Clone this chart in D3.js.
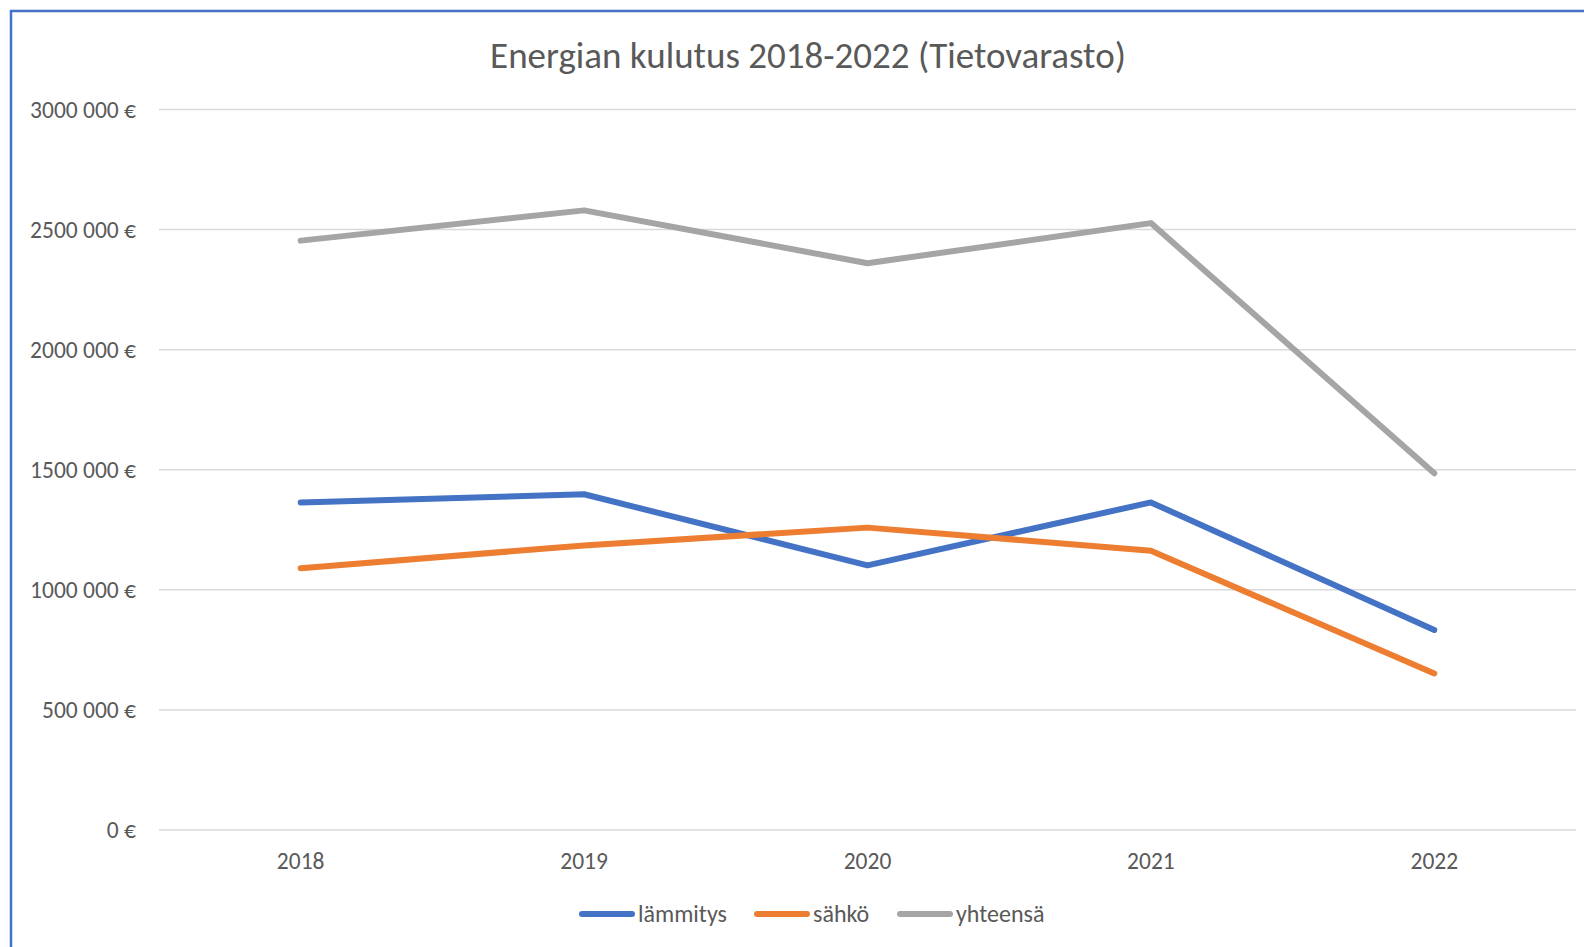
<!DOCTYPE html>
<html>
<head>
<meta charset="utf-8">
<script src="https://cdn.jsdelivr.net/npm/d3@7"></script>
<style>
  body { margin: 0; background: #fff; }
  text { font-family: Calibri, Carlito, Lato, "Open Sans", sans-serif; fill: #595959; }
</style>
</head>
<body>
<div id="chart"></div>
<script>
const width = 1584;
const height = 947;

// data
const years = ["2018", "2019", "2020", "2021", "2022"];
const lammitys = [1364000, 1398000, 1102000, 1364000, 833000];
const sahko = [1090000, 1185000, 1259000, 1163000, 652000];
const yhteensa = [2454000, 2580000, 2360000, 2527000, 1485000];
const seriesNames = ["lämmitys", "sähkö", "yhteensä"];
const seriesColors = ["#4472C4", "#ED7D31", "#A5A5A5"];
const yTicks = [0, 500000, 1000000, 1500000, 2000000, 2500000, 3000000];

const series = [lammitys, sahko, yhteensa];

const svg = d3.select("#chart").append("svg").attr("width", width).attr("height", height);

// chart frame (runs off the right/bottom of the window)
svg.append("rect")
    .attr("x", 11).attr("y", 11)
    .attr("width", width).attr("height", height)
    .attr("fill", "#fff")
    .attr("stroke", "#4472C4")
    .attr("stroke-width", 2.5);

const plot = { left: 159, right: 1576, top: 109.5, bottom: 830 };

const x = d3.scaleBand().domain(years).range([plot.left, plot.right]);
const y = d3.scaleLinear().domain([0, 3000000]).range([plot.bottom, plot.top]);

const fmt = v => {
    // "3000 000 €" style: space only before last group of three
    if (v === 0) return "0 €";
    const s = String(v);
    return s.slice(0, s.length - 3) + " " + s.slice(-3) + " €";
};

// gridlines
svg.append("g")
    .selectAll("line").data(yTicks).enter()
    .append("line")
    .attr("x1", plot.left).attr("x2", plot.right)
    .attr("y1", d => y(d)).attr("y2", d => y(d))
    .attr("stroke", "#D9D9D9")
    .attr("stroke-width", 1.5);

// y axis labels
const yAxis = d3.axisLeft(y).tickValues(yTicks).tickFormat(fmt).tickSize(0).tickPadding(0);
const gy = svg.append("g").attr("transform", "translate(136,0)").call(yAxis);
gy.select(".domain").remove();
gy.selectAll("text").style("font-size", "23.5px").attr("fill", "#595959");

// x axis labels
const xAxis = d3.axisBottom(x).tickSize(0).tickPadding(0);
const gx = svg.append("g").attr("transform", "translate(0,852)").call(xAxis);
gx.select(".domain").remove();
gx.selectAll("text").style("font-size", "23.5px").attr("fill", "#595959");

// lines
const line = d3.line()
    .x((d, i) => x(years[i]) + x.bandwidth() / 2)
    .y(d => y(d));

series.forEach((s, k) => {
    svg.append("path")
        .datum(s)
        .attr("d", line)
        .attr("fill", "none")
        .attr("stroke", seriesColors[k])
        .attr("stroke-width", 6)
        .attr("stroke-linecap", "round")
        .attr("stroke-linejoin", "round");
});

// title
svg.append("text")
    .attr("x", 808)
    .attr("y", 68)
    .attr("text-anchor", "middle")
    .style("font-size", "37px")
    .text("Energian kulutus 2018-2022 (Tietovarasto)");

// legend
const legendX = [582, 757, 900];
const legend = svg.append("g");
seriesNames.forEach((name, k) => {
    legend.append("line")
        .attr("x1", legendX[k]).attr("x2", legendX[k] + 50)
        .attr("y1", 914).attr("y2", 914)
        .attr("stroke", seriesColors[k])
        .attr("stroke-width", 6)
        .attr("stroke-linecap", "round");
    legend.append("text")
        .attr("x", legendX[k] + 56)
        .attr("y", 922)
        .style("font-size", "24px")
        .text(name);
});
</script>
</body>
</html>
